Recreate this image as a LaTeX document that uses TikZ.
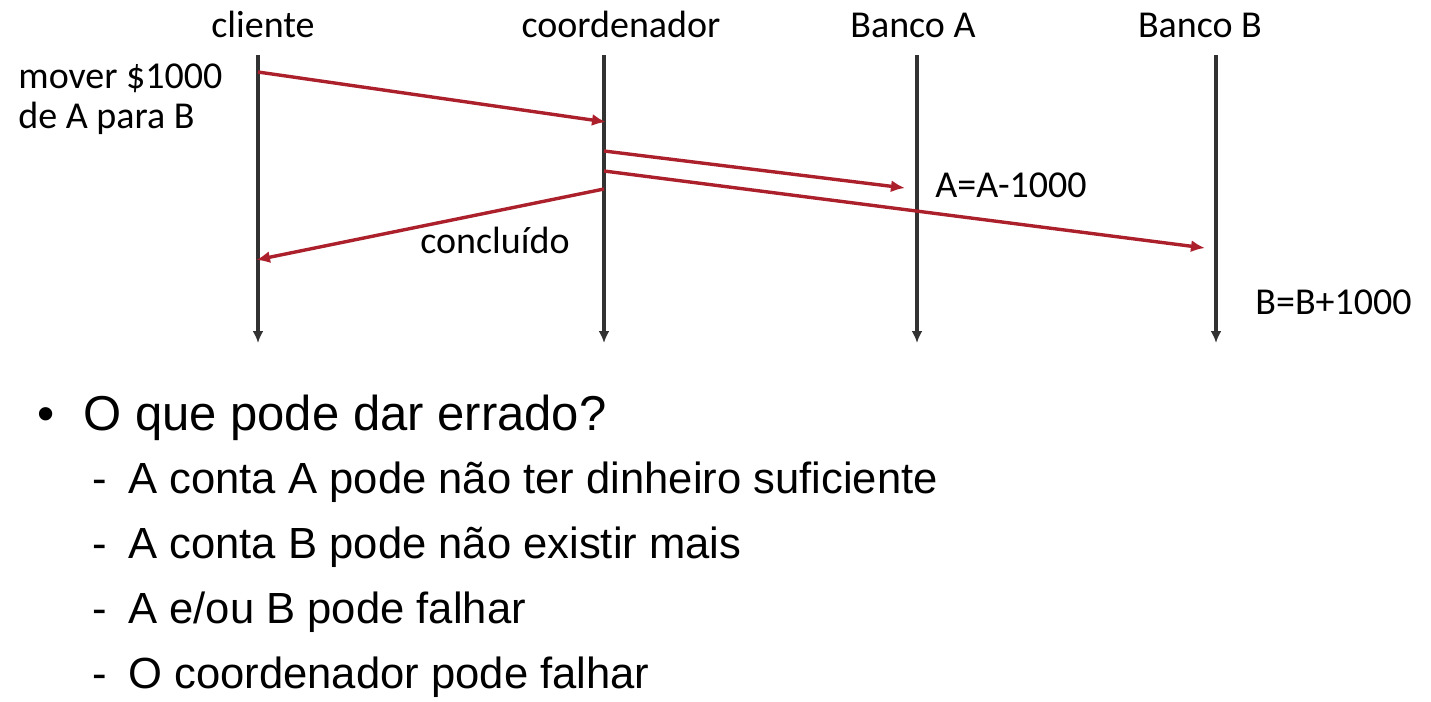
\documentclass[tikz,border=0pt]{standalone}
\usepackage{fontspec}
\setmainfont{Carlito}
\newfontfamily\listfont{Liberation Sans}
\usetikzlibrary{arrows.meta,positioning}
\definecolor{msgred}{RGB}{172,32,44}
\definecolor{lifegray}{RGB}{50,50,50}

\begin{document}
\begin{tikzpicture}[
    x=0.5pt, y=-0.5pt,
    font=\fontsize{19}{20}\selectfont,
    actor/.style={anchor=base, inner sep=0pt},
    note/.style={anchor=base west, inner sep=0pt, align=left},
    life/.style={line width=1.7pt, lifegray, -{Latex[length=6pt,width=5.5pt]}},
    msg/.style={line width=1.7pt, msgred, -{Latex[length=7pt,width=6pt]}},
    head/.style={anchor=base west, inner sep=0pt,
                 font=\listfont\fontsize{24.5}{28}\selectfont},
    item/.style={anchor=base west, inner sep=0pt,
                 font=\listfont\fontsize{21.8}{26}\selectfont}
]
\useasboundingbox[fill=white] (0,0) rectangle (1431,702);

% participants
\node[actor] (cli) at (263,37) {cliente};
\node[actor] (coord) at (621,37) {coordenador};
\node[actor] (bka) at (913,37) {Banco A};
\node[actor] (bkb) at (1200,37) {Banco B};

\coordinate (cli-top) at (258,55);
\coordinate (cli-end) at (258,343);
\coordinate (coord-top) at (604,55);
\coordinate (coord-end) at (604,343);
\coordinate (bka-top) at (917,55);
\coordinate (bka-end) at (917,343);
\coordinate (bkb-top) at (1216,55);
\coordinate (bkb-end) at (1216,343);
\draw[life] (cli-top) -- (cli-end);
\draw[life] (coord-top) -- (coord-end);
\draw[life] (bka-top) -- (bka-end);
\draw[life] (bkb-top) -- (bkb-end);

% messages
\coordinate (req) at (258,72);
\coordinate (req-in) at (606,122);
\coordinate (deb) at (604,151);
\coordinate (deb-in) at (905,188);
\coordinate (cred) at (604,171);
\coordinate (cred-in) at (1205,248);
\coordinate (done) at (604,189);
\coordinate (done-in) at (256,260);
\draw[msg] (req) -- (req-in);
\draw[msg] (deb) -- (deb-in);
\draw[msg] (cred) -- (cred-in);
\draw[msg] (done) -- (done-in);

\node[note] (movelbl) at (18,88) {mover \$1000};
\node[note] (movelbl2) at (18,128) {de A para B};
\node[note] (debit) at (935,197) {A=A-1000};
\node[note] (credit) at (1255,314) {B=B+1000};
\node[note] (conc) at (420,253) {conclu\'ido};

% what can go wrong
\node[head] (bullet) at (37,430) {\textbullet};
\node[head] (question) at (83,430) {O que pode dar errado?};
\node[item] (d1) at (92,493) {-};
\node[item] (r1) at (128,493) {A conta A pode não ter dinheiro suficiente};
\node[item] (d2) at (92,558) {-};
\node[item] (r2) at (128,558) {A conta B pode não existir mais};
\node[item] (d3) at (92,623) {-};
\node[item] (r3) at (128,623) {A e/ou B pode falhar};
\node[item] (d4) at (92,688) {-};
\node[item] (r4) at (128,688) {O coordenador pode falhar};
\end{tikzpicture}
\end{document}
